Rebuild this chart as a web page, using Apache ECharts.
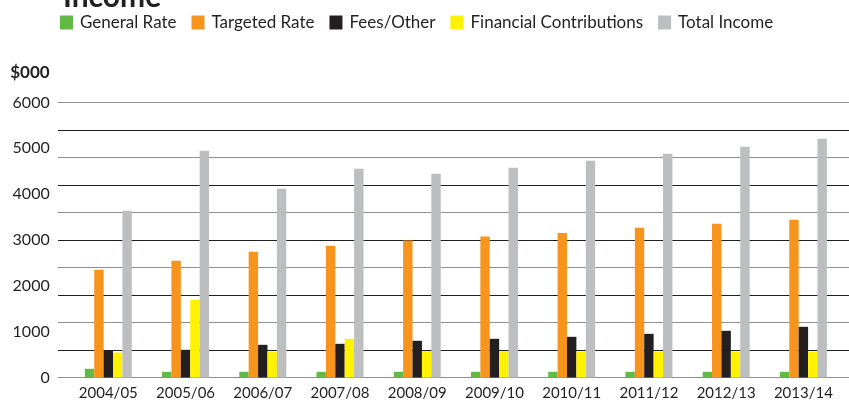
<!DOCTYPE html>
<html>
<head>
<meta charset="utf-8">
<script src="https://cdn.jsdelivr.net/npm/echarts@6/dist/echarts.min.js"></script>
<style>
  html, body { margin: 0; padding: 0; background: #fff; }
  #chart { width: 849px; height: 401px; }
</style>
</head>
<body>
<div id="chart"></div>
<script>
const years = ['2004/05', '2005/06', '2006/07', '2007/08', '2008/09', '2009/10', '2010/11', '2011/12', '2012/13', '2013/14'];
const generalRate = [190, 124, 124, 124, 124, 124, 124, 124, 124, 124];
const targetedRate = [2350, 2546, 2743, 2874, 2990, 3077, 3155, 3267, 3354, 3441];
const feesOther = [590, 604, 713, 735, 801, 844, 888, 953, 1019, 1106];
const financialContributions = [545, 1695, 568, 844, 575, 575, 568, 568, 568, 568];
const totalIncome = [3637, 4946, 4117, 4553, 4444, 4575, 4728, 4881, 5034, 5208];

const font = 'Lato, "Open Sans", sans-serif';
const chart = echarts.init(document.getElementById('chart'), null, { renderer: 'canvas' });

const bar = (name, data, color) => ({
  name, type: 'bar', data,
  xAxisIndex: 1, yAxisIndex: 1,
  barWidth: 9.4, barGap: '0%',
  itemStyle: { color },
  emphasis: { disabled: true }
});

chart.setOption({
  animation: false,
  textStyle: { fontFamily: font },
  title: {
    text: 'Income', left: 58, top: -23,
    textStyle: { fontSize: 30, fontWeight: 'bold', color: '#231f20', fontFamily: font }
  },
  legend: {
    left: 55, top: 9,
    itemWidth: 13, itemHeight: 14, itemGap: 15,
    icon: 'rect',
    textStyle: { fontSize: 17, color: '#231f20', fontFamily: font, padding: [0, 0, 0, 2] },
    data: ['General Rate', 'Targeted Rate', 'Fees/Other', 'Financial Contributions', 'Total Income']
  },
  grid: [
    { left: 58, right: 0, top: 102.5, height: 275 },
    { left: 69.7, right: 7, top: 102.5, height: 275 }
  ],
  xAxis: [
    { type: 'value', gridIndex: 0, show: false, min: 0, max: 1 },
    {
      type: 'category', gridIndex: 1, data: years,
      axisLine: { show: false }, axisTick: { show: false },
      axisLabel: { fontSize: 15, color: '#231f20', margin: 8, fontFamily: font }
    }
  ],
  yAxis: [
    {
      type: 'value', gridIndex: 0, min: 0, max: 6000, interval: 600,
      axisLabel: { show: false }, axisLine: { show: false }, axisTick: { show: false },
      splitLine: { lineStyle: { color: ['#8e8e8e', '#231f20'], width: 1.2 } }
    },
    {
      type: 'value', gridIndex: 1, min: 0, max: 6000, interval: 1000,
      name: '$000', nameLocation: 'end', nameGap: 21,
      nameTextStyle: { fontSize: 17, fontWeight: 'bold', color: '#231f20', align: 'right', padding: [0, 20, 0, 0], fontFamily: font },
      axisLabel: { fontSize: 16, color: '#231f20', margin: 20, fontFamily: font, formatter: v => String(v) },
      axisLine: { show: false }, axisTick: { show: false },
      splitLine: { show: false }
    }
  ],
  series: [
    bar('General Rate', generalRate, '#62b946'),
    bar('Targeted Rate', targetedRate, '#f7941d'),
    bar('Fees/Other', feesOther, '#231f20'),
    bar('Financial Contributions', financialContributions, '#fff200'),
    bar('Total Income', totalIncome, '#bcbec0')
  ]
});
</script>
</body>
</html>
